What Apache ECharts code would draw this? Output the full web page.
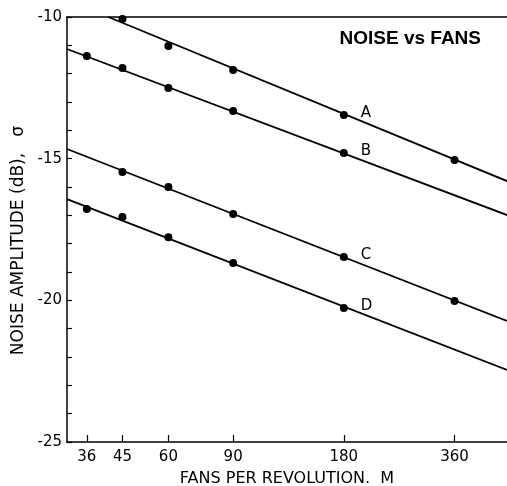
<!DOCTYPE html>
<html>
<head>
<meta charset="utf-8">
<script src="https://cdn.jsdelivr.net/npm/echarts@6/dist/echarts.min.js"></script>
<style>html,body{margin:0;padding:0;background:#fff;}#c{width:507px;height:486px;}</style>
</head>
<body>
<div id="c"></div>
<script>
// Fan counts (x) and measured points
const xTicks = [36, 45, 60, 90, 180, 360];
const ptsA = [[45, -10.07], [60, -11.02], [90, -11.87], [180, -13.46], [360, -15.05]];
const ptsB = [[36, -11.38], [45, -11.8], [60, -12.51], [90, -13.32], [180, -14.80]];
const ptsC = [[45, -15.47], [60, -16.0], [90, -16.95], [180, -18.47], [360, -20.02]];
const ptsD = [[36, -16.78], [45, -17.06], [60, -17.77], [90, -18.68], [180, -20.27]];
// Fitted straight lines (end points)
const fitA = [[41.2, -10.0], [500, -15.79]];
const fitB = [[31.8, -11.13], [500, -16.99]];
const fitC = [[31.8, -14.66], [500, -20.73]];
const fitD = [[31.8, -16.43], [500, -22.46]];
const names = ['A', 'B', 'C', 'D'];
const yMin = -25, yMax = -10;

const FONT = 'DejaVu Sans';
const black = '#000';

function ptSeries(pts, name) {
  return {
    type: 'scatter', name: name, symbol: 'circle', symbolSize: 8,
    itemStyle: { color: black, opacity: 1 },
    data: pts.map(p => p[0] === 180 ? {
      value: p,
      label: { show: true, formatter: name, position: 'right', distance: 13,
               offset: [0, -2], color: black, fontFamily: FONT, fontSize: 15 }
    } : p),
    z: 3
  };
}
function lineSeries(fit) {
  return {
    type: 'line', data: fit, symbol: 'none', lineStyle: { color: black, width: 1.8, opacity: 1 },
    z: 2, silent: true
  };
}

const chart = echarts.init(document.getElementById('c'), null, { renderer: 'canvas' });
chart.setOption({
  backgroundColor: '#fff',
  animation: false,
  title: {
    text: 'NOISE vs FANS', right: 21, top: 24,
    textStyle: { fontFamily: 'Liberation Sans', fontWeight: 'bold', fontSize: 19, color: black }
  },
  grid: { left: 67, right: 0, top: 17, bottom: 44, containLabel: false, outerBoundsMode: 'none' },
  xAxis: [{
    type: 'log', min: 31.8, max: 500,
    name: 'FANS PER REVOLUTION.  M', nameLocation: 'middle', nameGap: 29,
    nameTextStyle: { fontFamily: FONT, fontSize: 16, color: black },
    axisLine: { lineStyle: { color: black, width: 1.5 } },
    axisTick: { inside: true, length: 7, customValues: xTicks, lineStyle: { color: black, width: 1.2 } },
    axisLabel: { customValues: xTicks, fontFamily: FONT, fontSize: 15, color: black, margin: 8,
                 formatter: v => String(Math.round(v)) },
    splitLine: { show: false }, minorTick: { show: false }
  }, {
    type: 'log', min: 31.8, max: 500, position: 'top',
    axisLine: { show: true, lineStyle: { color: black, width: 1.5 } },
    axisTick: { show: false }, axisLabel: { show: false }, splitLine: { show: false }
  }],
  yAxis: {
    type: 'value', min: yMin, max: yMax, interval: 1,
    name: 'NOISE AMPLITUDE (dB),   σ', nameLocation: 'middle', nameGap: 37,
    nameTextStyle: { fontFamily: FONT, fontSize: 17, color: black, padding: [0, 0, 0, -22] },
    axisLine: { show: true, lineStyle: { color: black, width: 1.5 } },
    axisTick: { inside: true, length: 5, lineStyle: { color: black, width: 1.2 } },
    axisLabel: { fontFamily: FONT, fontSize: 15, color: black, margin: 5,
                 formatter: v => (v % 5 === 0 ? String(v) : '') },
    splitLine: { show: false }
  },
  series: [
    lineSeries(fitA), lineSeries(fitB), lineSeries(fitC), lineSeries(fitD),
    ptSeries(ptsA, names[0]), ptSeries(ptsB, names[1]), ptSeries(ptsC, names[2]), ptSeries(ptsD, names[3])
  ]
});
</script>
</body>
</html>
